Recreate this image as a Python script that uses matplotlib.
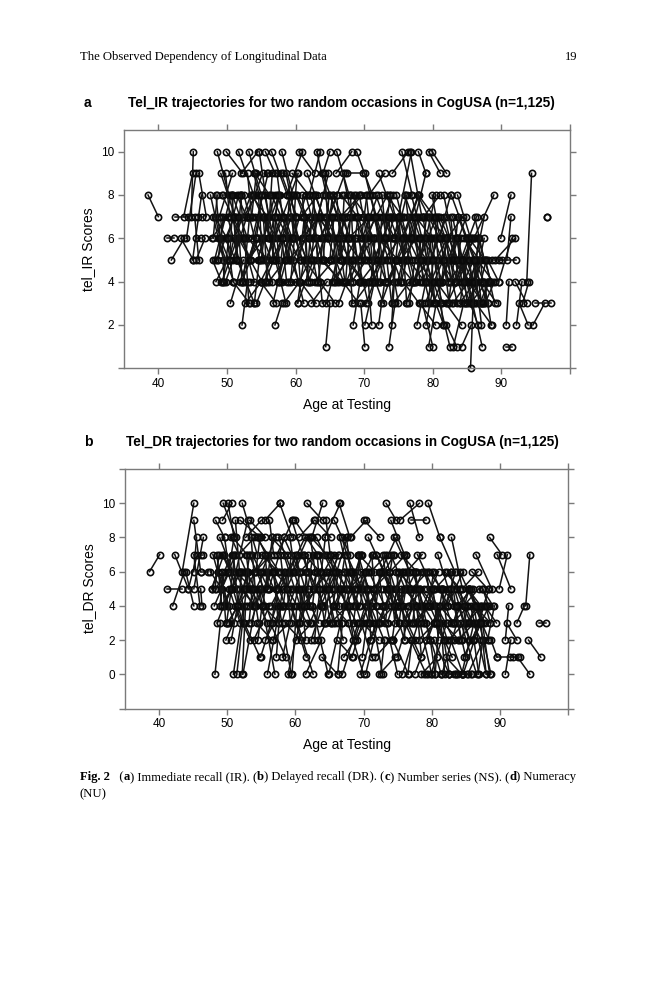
"""
Spaghetti plots of two-occasion trajectories (CogUSA tel_IR / tel_DR), page-style layout.
"""

import numpy as np
import matplotlib
matplotlib.use("Agg")
import matplotlib.pyplot as plt

# ---- panel a: tel_IR, (age, score) at occasion 1 and occasion 2 ----
IR_AGE1 = [
    # left fringe
    38.5, 41.9, 41.2, 42.4, 43.3, 43.7, 44.8, 44.1, 45.0, 45.3, 45.5, 45.8, 45.9, 45.5,
    # core
    47.6, 47.8, 48.0, 48.2, 48.4, 48.6, 48.7, 48.9, 47.9,
    49.1, 49.3, 49.5, 49.7, 49.9, 50.1, 50.3, 50.5, 50.8, 50.9,
    51.1, 51.3, 51.5, 51.7, 51.9, 52.1, 52.3, 52.5, 52.7, 52.9,
    53.1, 53.3, 53.5, 53.7, 53.9, 54.1, 54.3, 54.5, 54.7, 54.9,
    55.1, 55.3, 55.5, 55.7, 55.9, 56.1, 56.3, 56.5, 56.7, 56.9,
    57.1, 57.3, 57.5, 57.7, 57.9, 58.1, 58.3, 58.5, 58.7, 58.9,
    59.1, 59.3, 59.5, 59.7, 59.9, 60.1, 60.3, 60.5, 60.7, 60.9,
    61.1, 61.3, 61.5, 61.7, 61.9, 62.1, 62.3, 62.5, 62.7, 62.9,
    63.1, 63.3, 63.5, 63.7, 63.9, 64.1, 64.3, 64.5, 64.7, 64.9,
    65.1, 65.3, 65.5, 65.7, 65.9, 66.1, 66.3, 66.5, 66.7, 66.9,
    67.1, 67.3, 67.5, 67.7, 67.9, 68.1, 68.3, 68.5, 68.7, 68.9,
    69.1, 69.3, 69.5, 69.7, 69.9, 70.1, 70.3, 70.5, 70.7, 70.9,
    71.1, 71.3, 71.5, 71.7, 71.9, 72.1, 72.3, 72.5, 72.7, 72.9,
    73.1, 73.3, 73.5, 73.7, 73.9, 74.1, 74.3, 74.5, 74.7, 74.9,
    75.1, 75.3, 75.5, 75.7, 75.9, 76.1, 76.3, 76.5, 76.7, 76.9,
    77.1, 77.3, 77.5, 77.7, 77.9, 78.1, 78.3, 78.5, 78.7, 78.9,
    79.1, 79.3, 79.5, 79.7, 79.9, 80.1, 80.3, 80.5, 80.7, 80.9,
    81.1, 81.3, 81.5, 81.7, 81.9, 82.1, 82.3, 82.5, 82.7, 82.9,
    83.1, 83.3, 83.5, 83.7, 83.9, 84.1, 84.3, 84.5, 84.7, 84.9,
    85.1, 85.3, 85.5, 85.7, 85.9, 86.1, 86.3, 86.5,
    87.2, 87.6, 88.0, 88.3,
    # second pass through the dense middle
    48.2, 48.5, 49.0, 49.3, 49.8, 50.1, 50.6, 50.9, 51.4, 51.7,
    52.2, 52.5, 53.0, 53.3, 53.8, 54.1, 54.6, 54.9, 55.4, 55.7,
    56.2, 56.5, 57.0, 57.3, 57.8, 58.1, 58.6, 58.9, 59.4, 59.7,
    60.2, 60.5, 61.0, 61.3, 61.8, 62.1, 62.6, 62.9, 63.4, 63.7,
    64.2, 64.5, 65.0, 65.3, 65.8, 66.1, 66.6, 66.9, 67.4, 67.7,
    68.2, 68.5, 69.0, 69.3, 69.8, 70.1, 70.6, 70.9, 71.4, 71.7,
    72.2, 72.5, 73.0, 73.3, 73.8, 74.1, 74.6, 74.9, 75.4, 75.7,
    76.2, 76.5, 77.0, 77.3, 77.8, 78.1, 78.6, 78.9, 79.4, 79.7,
    80.2, 80.5, 81.0, 81.3, 81.8, 82.1, 82.6, 82.9, 83.4, 83.7,
    84.2, 84.5, 85.0, 85.3, 85.8, 86.1, 86.6, 84.4, 85.1, 86.9,
    # third pass, short retest intervals
    48.0, 48.4, 48.7, 49.1, 49.4, 49.8, 50.0, 50.4, 50.7, 51.0,
    51.3, 51.6, 52.0, 52.4, 52.6, 53.0, 53.4, 53.6, 54.0, 54.3,
    54.6, 55.0, 55.3, 55.6, 56.0, 56.3, 56.6, 57.0, 57.3, 57.6,
    58.0, 58.3, 58.6, 59.0, 59.3, 59.6, 60.0, 60.3, 60.6, 61.0,
    61.3, 61.6, 62.0, 62.3, 62.6, 63.0, 63.3, 63.6, 64.0, 64.3,
    64.6, 65.0, 65.3, 65.6, 66.0, 66.3, 66.6, 67.0, 67.3, 67.6,
    68.0, 68.3, 68.6, 69.0, 69.3, 69.6, 70.0, 70.3, 70.6, 71.0,
    71.3, 71.6, 72.0, 72.3, 72.6, 73.0, 73.3, 73.6, 74.0, 74.3,
    74.6, 75.0, 75.3, 75.6, 76.0, 76.3, 76.6, 77.0, 77.3, 77.6,
    78.0, 78.3, 78.6, 79.0, 79.3, 79.6, 80.0, 80.3, 80.6, 81.0,
    81.3, 81.6, 82.0, 82.3, 82.6, 83.0, 83.3, 83.6, 84.0, 84.3,
    84.6, 85.0, 85.3, 85.6, 86.0, 86.3, 86.6, 87.0, 87.3, 87.7,
    # right / low / high fringe
    86.0, 89.9, 90.8, 85.6, 96.6, 93.7, 90.7, 92.0, 92.2, 92.6,
    88.6, 89.1, 89.6, 89.6, 90.7, 85.8, 85.5, 86.0, 87.5, 94.6,
    94.9, 93.1, 81.0, 83.0, 82.0, 84.2, 79.4, 78.5, 64.4, 69.5,
    70.1, 73.6, 52.2, 57.0, 68.4, 70.6, 72.1, 74.0, 77.7, 79.0,
    80.9, 75.5, 76.7, 77.9, 79.4, 79.9, 75.0, 79.0, 81.6, 80.9,
    83.6, 53.2, 55.6, 58.0, 62.0, 66.0, 64.0,
]
IR_SCORE1 = [
    8, 5, 6, 7, 6, 7, 7, 6, 5, 7, 6, 7, 9, 5,
    8, 6, 7, 5, 4, 10, 6, 7, 5,
    9, 4, 8, 6, 10, 7, 5, 3, 8, 4,
    6, 7, 5, 10, 4, 9, 6, 8, 3, 7,
    5, 4, 8, 6, 9, 7, 3, 5, 10, 4,
    7, 6, 8, 5, 9, 4, 6, 10, 3, 7,
    5, 8, 4, 6, 9, 7, 3, 5, 8, 6,
    4, 7, 9, 5, 6, 8, 3, 10, 4, 7,
    6, 5, 8, 9, 4, 7, 3, 6, 5, 8,
    10, 7, 4, 6, 9, 5, 8, 3, 6, 7,
    5, 4, 8, 6, 9, 7, 3, 5, 8, 4,
    6, 7, 9, 5, 4, 8, 6, 3, 7, 10,
    5, 8, 4, 6, 7, 9, 3, 5, 8, 6,
    4, 7, 5, 8, 6, 9, 4, 3, 7, 5,
    6, 8, 4, 7, 5, 9, 3, 6, 8, 4,
    7, 5, 6, 4, 8, 3, 7, 5, 6, 8,
    4, 6, 7, 5, 8, 3, 6, 4, 7, 5,
    6, 4, 7, 5, 8, 3, 6, 4, 7, 5,
    4, 6, 5, 7, 3, 6, 4, 5, 8, 3,
    5, 4, 6, 7, 3, 5, 4, 6, 3, 5,
    4, 6, 3, 5, 4, 7, 3, 5,
    4, 3, 5, 4,
    7, 5, 6, 8, 4, 6, 7, 5, 8, 6,
    4, 7, 6, 5, 8, 9, 6, 4, 7, 5,
    6, 8, 5, 7, 4, 6, 9, 5, 7, 6,
    8, 4, 6, 7, 5, 8, 6, 4, 7, 5,
    6, 7, 8, 5, 4, 6, 7, 9, 5, 6,
    4, 8, 6, 5, 7, 6, 4, 8, 5, 7,
    6, 5, 7, 4, 8, 6, 5, 7, 4, 6,
    5, 7, 6, 4, 8, 5, 6, 3, 7, 4,
    6, 5, 7, 4, 6, 3, 5, 7, 4, 6,
    5, 4, 6, 3, 5, 4, 6, 5, 4, 3,
    6, 8, 5, 7, 4, 9, 6, 5, 8, 7,
    5, 7, 8, 4, 6, 9, 5, 7, 3, 6,
    8, 5, 7, 4, 6, 8, 5, 7, 9, 4,
    6, 7, 5, 8, 4, 6, 7, 3, 5, 8,
    7, 4, 6, 5, 8, 6, 4, 7, 5, 9,
    6, 5, 7, 4, 8, 6, 5, 7, 4, 6,
    8, 5, 6, 7, 4, 6, 5, 8, 7, 4,
    6, 7, 5, 4, 8, 6, 5, 7, 3, 6,
    5, 7, 4, 6, 8, 5, 3, 6, 7, 4,
    6, 5, 7, 4, 3, 6, 5, 7, 4, 6,
    4, 5, 6, 3, 7, 5, 4, 6, 3, 5,
    4, 6, 5, 3, 4, 5, 6, 4, 3, 5,
    6, 6, 5, 4, 7, 4, 2, 4, 2, 3,
    5, 5, 5, 4, 1, 3, 0, 5, 4, 2,
    3, 3, 3, 1, 2, 1, 1, 3, 1, 3,
    2, 1, 2, 2, 2, 4, 2, 2, 2, 2,
    4, 10, 10, 10, 10, 10, 7, 6, 8, 6,
    8, 10, 10, 10, 8, 10, 9,
]
IR_AGE2 = [
    40.0, 43.8, 42.3, 44.3, 45.1, 45.0, 45.1, 45.5, 46.3, 45.9, 46.2, 46.3, 47.0, 46.8,
    49.0, 50.1, 49.5, 50.6, 50.0, 50.3, 51.0, 50.8, 49.2,
    51.2, 51.5, 52.0, 51.3, 52.3, 52.6, 51.8, 52.4, 53.0, 53.3,
    53.5, 53.1, 54.0, 53.9, 54.2, 54.5, 54.0, 54.8, 55.0, 55.2,
    55.4, 55.6, 55.9, 56.0, 56.3, 56.5, 56.8, 57.0, 56.1, 57.2,
    57.4, 57.6, 58.0, 57.9, 58.2, 58.5, 58.6, 58.8, 59.0, 59.2,
    59.4, 59.5, 60.0, 59.8, 60.2, 60.4, 60.6, 60.8, 61.0, 61.2,
    61.4, 61.6, 61.9, 62.0, 62.2, 62.4, 62.6, 62.8, 63.0, 63.2,
    63.4, 63.6, 63.9, 64.0, 64.2, 64.4, 64.6, 64.8, 65.0, 65.2,
    64.5, 65.5, 65.8, 66.0, 66.2, 66.4, 66.6, 66.8, 67.0, 67.2,
    67.4, 67.6, 67.9, 68.0, 68.2, 68.4, 68.6, 68.8, 69.0, 69.2,
    69.4, 69.6, 69.9, 70.0, 70.2, 70.4, 70.6, 70.8, 71.0, 71.2,
    71.4, 71.6, 71.9, 72.0, 72.2, 72.4, 72.6, 72.8, 73.0, 73.2,
    73.4, 73.6, 73.9, 74.0, 74.2, 74.4, 74.6, 74.8, 75.0, 75.2,
    75.4, 75.6, 75.9, 76.0, 76.2, 76.4, 76.6, 76.8, 77.0, 77.2,
    77.4, 77.6, 77.9, 78.0, 78.2, 78.4, 78.6, 78.8, 79.0, 79.2,
    79.4, 79.6, 79.9, 80.0, 80.2, 80.4, 80.6, 80.8, 81.0, 81.2,
    81.4, 81.6, 81.9, 82.0, 82.2, 82.4, 82.6, 82.8, 83.0, 83.2,
    83.4, 83.6, 83.9, 84.0, 84.2, 84.4, 84.6, 84.8, 85.0, 85.2,
    85.4, 85.6, 85.9, 86.0, 86.2, 86.4, 86.6, 86.8, 87.0, 87.2,
    87.4, 87.6, 87.9, 88.0, 88.2, 87.5, 88.6, 88.8,
    89.3, 89.0, 89.6, 89.0,
    50.0, 51.1, 50.3, 52.4, 52.0, 51.7, 53.5, 52.9, 52.9, 55.1,
    54.6, 54.2, 56.0, 54.7, 56.5, 56.2, 56.5, 58.1, 57.0, 58.2,
    57.7, 59.3, 59.0, 60.6, 59.5, 60.5, 59.9, 61.8, 61.6, 61.5,
    63.2, 62.1, 63.5, 63.2, 65.2, 64.2, 64.0, 65.6, 65.4, 66.8,
    65.9, 67.1, 67.2, 66.8, 68.8, 68.0, 69.4, 68.2, 69.8, 70.9,
    70.3, 69.9, 71.9, 71.6, 71.4, 73.4, 72.6, 72.7, 74.0, 73.2,
    74.9, 74.4, 74.4, 76.4, 76.0, 75.8, 77.1, 77.9, 77.0, 78.0,
    78.0, 79.4, 79.1, 78.8, 81.0, 80.5, 80.3, 81.5, 80.7, 82.5,
    82.4, 82.1, 83.7, 83.3, 83.2, 85.1, 84.9, 84.7, 85.9, 85.6,
    86.2, 86.0, 87.4, 87.1, 88.0, 87.5, 88.5, 87.2, 86.7, 88.1,
    48.6, 49.0, 49.5, 49.6, 50.3, 50.4, 50.9, 50.9, 51.5, 51.6,
    52.1, 52.2, 52.5, 53.3, 53.2, 53.6, 54.2, 54.3, 54.7, 55.1,
    55.2, 55.8, 55.9, 56.5, 56.6, 57.0, 57.4, 57.6, 58.1, 58.2,
    58.7, 59.2, 59.1, 59.8, 60.1, 60.2, 60.7, 61.2, 61.3, 61.6,
    61.9, 62.4, 62.8, 63.0, 63.2, 63.9, 64.0, 64.2, 64.9, 64.8,
    65.4, 65.6, 66.1, 66.2, 66.7, 67.2, 67.1, 67.8, 68.0, 68.3,
    68.5, 69.1, 69.4, 69.6, 70.1, 70.4, 70.6, 71.0, 71.5, 71.6,
    72.0, 72.4, 72.6, 73.1, 73.2, 73.8, 74.0, 74.3, 74.6, 75.1,
    75.3, 75.7, 76.1, 76.2, 76.8, 77.0, 77.4, 77.7, 78.1, 78.3,
    78.6, 79.1, 79.4, 79.7, 80.1, 80.3, 80.8, 81.0, 81.4, 81.7,
    82.0, 82.4, 82.6, 83.1, 83.3, 83.7, 84.1, 84.2, 84.8, 85.0,
    85.3, 85.7, 86.1, 86.4, 86.7, 87.1, 87.3, 87.8, 88.1, 88.4,
    88.9, 91.4, 91.4, 87.5, 96.6, 94.4, 91.1, 93.7, 93.0, 93.9,
    90.1, 92.0, 92.2, 91.5, 91.6, 87.2, 86.0, 87.1, 88.5, 96.3,
    97.3, 94.0, 82.5, 84.5, 83.5, 85.6, 80.5, 80.0, 65.0, 70.1,
    71.5, 74.5, 53.0, 58.0, 69.4, 71.1, 73.0, 74.6, 79.0, 80.2,
    81.5, 77.0, 78.4, 79.0, 81.1, 82.0, 76.9, 80.4, 83.5, 82.6,
    85.5, 55.0, 57.0, 59.6, 63.6, 67.8, 65.0,
]
IR_SCORE2 = [
    7, 6, 6, 7, 5, 9, 10, 9, 8, 5, 6, 7, 7, 6,
    6, 7, 5, 8, 5, 8, 4, 9, 4,
    7, 6, 8, 5, 9, 4, 7, 5, 6, 3,
    8, 7, 3, 8, 6, 10, 4, 5, 4, 9,
    6, 4, 7, 9, 6, 5, 5, 8, 7, 3,
    6, 8, 4, 7, 9, 5, 3, 8, 6, 5,
    7, 6, 4, 8, 7, 9, 4, 5, 10, 3,
    6, 5, 8, 7, 4, 6, 5, 9, 3, 8,
    7, 4, 5, 7, 6, 7, 4, 9, 5, 6,
    8, 6, 3, 8, 7, 4, 5, 6, 4, 9,
    7, 5, 6, 6, 10, 4, 5, 8, 7, 3,
    5, 8, 9, 4, 6, 7, 3, 4, 5, 8,
    6, 4, 5, 8, 7, 6, 5, 3, 9, 4,
    6, 5, 7, 6, 8, 7, 4, 5, 3, 6,
    4, 7, 6, 5, 8, 10, 4, 6, 5, 7,
    4, 6, 8, 3, 6, 5, 7, 4, 9, 5,
    5, 3, 6, 4, 7, 2, 5, 6, 8, 3,
    4, 2, 6, 7, 4, 5, 6, 3, 5, 4,
    6, 3, 5, 4, 2, 7, 5, 3, 6, 4,
    4, 6, 3, 5, 4, 7, 2, 5, 4, 3,
    3, 5, 4, 3, 4, 5, 2, 4,
    3, 4, 4, 3,
    6, 7, 5, 6, 6, 8, 5, 7, 7, 4,
    6, 8, 5, 7, 6, 8, 4, 6, 5, 7,
    8, 6, 7, 5, 6, 4, 7, 6, 5, 8,
    6, 5, 7, 4, 7, 6, 8, 5, 6, 4,
    7, 5, 6, 7, 6, 5, 8, 7, 4, 7,
    5, 6, 4, 7, 6, 8, 5, 6, 7, 4,
    5, 7, 6, 6, 5, 7, 4, 5, 6, 8,
    7, 4, 5, 6, 6, 7, 3, 5, 4, 6,
    4, 6, 5, 6, 4, 5, 7, 4, 6, 3,
    6, 5, 4, 5, 3, 6, 4, 3, 5, 4,
    8, 6, 7, 4, 6, 7, 4, 8, 5, 5,
    8, 4, 6, 7, 3, 7, 6, 9, 5, 8,
    5, 7, 4, 6, 9, 6, 8, 5, 7, 6,
    4, 5, 8, 6, 7, 9, 4, 5, 7, 5,
    4, 7, 8, 7, 5, 3, 6, 5, 8, 6,
    8, 7, 4, 6, 5, 4, 8, 6, 7, 3,
    5, 7, 4, 5, 6, 8, 7, 6, 4, 6,
    4, 5, 7, 6, 6, 8, 3, 4, 5, 7,
    7, 5, 6, 3, 6, 4, 5, 7, 4, 6,
    4, 7, 5, 6, 5, 3, 7, 4, 3, 5,
    6, 3, 4, 5, 5, 7, 6, 4, 5, 3,
    6, 4, 3, 5, 6, 3, 4, 5, 4, 4,
    8, 8, 7, 7, 7, 9, 4, 3, 4, 2,
    5, 6, 5, 6, 1, 1, 4, 2, 2, 3,
    3, 4, 1, 3, 1, 2, 3, 1, 3, 1,
    4, 3, 4, 3, 4, 2, 4, 5, 4, 4,
    2, 8, 7, 9, 9, 9, 10, 8, 5, 8,
    6, 8, 9, 8, 10, 8, 10,
]

# ---- panel b: tel_DR ----
DR_AGE1 = [
    # left fringe
    38.6, 41.2, 42.0, 42.3, 43.4, 43.9, 44.3, 45.1, 45.1, 45.1,
    45.1, 46.1, 46.2, 46.1, 49.3, 50.1, 50.6,
    # core
    47.5, 47.7, 47.9, 48.1, 48.3, 48.5, 48.7, 48.9, 48.2, 47.8,
    49.1, 49.3, 49.5, 49.4, 49.8, 50.1, 50.3, 50.6, 50.9, 50.7,
    51.1, 51.3, 51.4, 51.7, 51.9, 52.2, 52.3, 52.5, 52.7, 52.9,
    53.1, 53.3, 53.5, 53.7, 53.9, 54.1, 54.3, 54.5, 54.7, 54.9,
    55.1, 55.3, 55.5, 55.7, 55.9, 56.1, 56.3, 56.5, 56.7, 56.9,
    57.1, 57.3, 57.5, 57.7, 57.9, 58.1, 58.3, 58.5, 58.7, 58.9,
    59.1, 59.3, 59.5, 59.7, 59.9, 60.1, 60.3, 60.5, 60.7, 60.9,
    61.1, 61.3, 61.5, 61.7, 61.9, 62.1, 62.3, 62.5, 62.7, 62.9,
    63.1, 63.3, 63.5, 63.7, 63.9, 64.1, 64.3, 64.5, 64.7, 64.9,
    65.1, 65.3, 65.5, 65.7, 65.9, 66.1, 66.3, 66.5, 66.7, 66.9,
    67.1, 67.3, 67.5, 67.7, 67.9, 68.1, 68.3, 68.5, 68.7, 68.9,
    69.1, 69.3, 69.5, 69.7, 69.9, 70.1, 70.3, 70.5, 70.7, 70.9,
    71.1, 71.3, 71.5, 71.7, 71.9, 72.1, 72.3, 72.5, 72.7, 72.9,
    73.1, 73.3, 73.5, 73.7, 73.9, 74.1, 74.3, 74.5, 74.7, 74.9,
    75.1, 75.3, 75.5, 75.7, 75.9, 76.1, 76.3, 76.5, 76.8, 76.9,
    77.1, 77.3, 77.5, 77.7, 77.9, 78.1, 78.3, 78.5, 78.7, 78.9,
    79.1, 79.3, 79.5, 79.7, 79.9, 80.1, 80.3, 80.5, 80.7, 80.9,
    81.1, 81.3, 81.5, 81.7, 81.9, 82.1, 82.3, 82.5, 82.9, 82.7,
    83.1, 83.3, 83.5, 83.7, 83.9, 84.1, 84.3, 84.5, 84.7, 84.9,
    85.1, 85.3, 85.5, 85.7, 85.9, 86.1, 86.3, 86.5,
    87.0, 87.4, 87.8, 88.2,
    # second pass through the dense middle
    48.4, 48.7, 49.2, 49.5, 50.0, 50.3, 50.8, 51.1, 51.6, 51.9,
    52.4, 52.7, 53.2, 53.5, 54.0, 54.3, 54.8, 55.1, 55.6, 55.9,
    56.4, 56.7, 57.2, 57.5, 58.0, 58.3, 58.8, 59.1, 59.6, 59.9,
    60.4, 60.7, 61.2, 61.5, 62.0, 62.3, 62.8, 63.1, 63.6, 63.9,
    64.4, 64.7, 65.2, 65.5, 66.0, 66.3, 66.8, 67.1, 67.6, 67.9,
    68.4, 68.7, 69.2, 69.5, 70.0, 70.3, 70.8, 71.1, 71.6, 71.9,
    72.4, 72.7, 73.2, 73.5, 74.0, 74.3, 74.8, 75.1, 75.6, 75.9,
    76.4, 76.7, 77.2, 77.5, 78.0, 78.3, 78.8, 79.1, 79.6, 79.9,
    80.4, 80.7, 81.2, 81.5, 82.0, 82.3, 82.8, 83.1, 83.6, 83.9,
    84.4, 84.7, 85.2, 85.5, 86.0, 86.3, 86.8, 84.6, 85.3, 87.1,
    # third pass, short retest intervals
    48.2, 48.5, 48.9, 49.2, 49.6, 49.9, 50.2, 50.5, 50.9, 51.2,
    51.5, 51.8, 52.2, 52.5, 52.8, 53.2, 53.5, 53.8, 54.2, 54.5,
    54.8, 55.2, 55.5, 55.8, 56.2, 56.5, 56.8, 57.2, 57.5, 57.8,
    58.2, 58.5, 58.8, 59.2, 59.5, 59.8, 60.2, 60.5, 60.8, 61.2,
    61.5, 61.8, 62.2, 62.5, 62.8, 63.2, 63.5, 63.8, 64.2, 64.5,
    64.8, 65.2, 65.5, 65.8, 66.2, 66.5, 66.8, 67.2, 67.5, 67.8,
    68.2, 68.5, 68.8, 69.2, 69.5, 69.8, 70.2, 70.5, 70.8, 71.2,
    71.5, 71.8, 72.2, 72.5, 72.8, 73.2, 73.5, 73.8, 74.2, 74.5,
    74.8, 75.2, 75.5, 75.8, 76.2, 76.5, 76.8, 77.2, 77.5, 77.8,
    78.2, 78.5, 78.8, 79.2, 79.5, 79.8, 80.2, 80.5, 80.8, 81.2,
    81.5, 81.8, 82.2, 82.5, 82.8, 83.2, 83.5, 83.8, 84.2, 84.5,
    84.8, 85.2, 85.5, 85.8, 86.2, 86.5, 86.8, 87.2, 87.5, 87.9,
    # right / high fringe
    88.5, 89.6, 89.9, 90.8, 93.8, 91.0, 94.2, 92.5, 95.8, 89.6,
    91.5, 90.8, 92.6, 88.7, 66.4, 75.3, 77.0, 74.0, 62.4, 81.2,
]
DR_SCORE1 = [
    6, 5, 4, 7, 6, 6, 5, 6, 5, 7,
    9, 5, 7, 6, 9, 10, 2,
    6, 5, 7, 4, 9, 3, 6, 8, 0, 5,
    5, 7, 4, 10, 2, 6, 3, 8, 0, 5,
    4, 6, 0, 7, 5, 10, 0, 3, 8, 6,
    4, 9, 5, 7, 2, 6, 3, 8, 5, 1,
    7, 4, 9, 6, 0, 5, 3, 8, 2, 6,
    5, 7, 4, 10, 6, 1, 8, 3, 5, 0,
    6, 4, 9, 5, 7, 2, 3, 8, 6, 4,
    5, 7, 0, 10, 6, 3, 8, 4, 5, 9,
    6, 2, 7, 4, 1, 5, 8, 3, 6, 0,
    7, 5, 4, 9, 6, 2, 3, 8, 5, 0,
    6, 4, 7, 3, 5, 8, 1, 6, 2, 4,
    5, 7, 0, 6, 3, 9, 4, 5, 8, 2,
    6, 4, 5, 1, 7, 3, 0, 6, 4, 5,
    7, 10, 3, 5, 6, 4, 2, 8, 5, 1,
    6, 4, 7, 0, 5, 3, 6, 4, 10, 2,
    5, 3, 6, 4, 7, 2, 5, 0, 4, 6,
    3, 5, 10, 4, 0, 6, 2, 5, 3, 7,
    4, 0, 5, 3, 6, 1, 4, 2, 8, 5,
    3, 5, 0, 4, 2, 6, 3, 5, 1, 4,
    3, 0, 5, 4, 6, 2, 4, 7,
    3, 5, 4, 2,
    5, 6, 4, 7, 3, 5, 8, 6, 4, 9,
    6, 5, 7, 3, 4, 8, 5, 6, 2, 7,
    4, 6, 5, 8, 3, 7, 5, 4, 6, 9,
    5, 3, 7, 4, 6, 2, 5, 8, 6, 4,
    7, 5, 3, 6, 4, 5, 8, 1, 6, 5,
    4, 6, 7, 3, 5, 0, 6, 4, 5, 7,
    3, 6, 4, 5, 7, 2, 5, 4, 6, 3,
    5, 4, 6, 0, 3, 5, 4, 2, 6, 5,
    3, 4, 5, 0, 4, 6, 2, 3, 5, 4,
    0, 4, 3, 5, 2, 4, 3, 0, 5, 4,
    5, 7, 4, 6, 8, 3, 6, 5, 7, 9,
    4, 6, 0, 5, 7, 3, 8, 5, 6, 2,
    6, 4, 7, 5, 9, 3, 6, 1, 5, 7,
    4, 6, 5, 8, 0, 6, 7, 3, 5, 4,
    6, 5, 8, 4, 2, 7, 5, 6, 3, 9,
    5, 7, 4, 6, 0, 5, 3, 6, 8, 4,
    6, 3, 5, 7, 4, 1, 6, 5, 3, 7,
    5, 4, 6, 0, 7, 3, 5, 6, 2, 4,
    6, 3, 5, 4, 7, 0, 5, 3, 6, 4,
    5, 3, 0, 6, 4, 2, 5, 0, 3, 4,
    5, 2, 4, 0, 6, 3, 4, 0, 5, 2,
    4, 0, 3, 5, 2, 4, 0, 3, 5, 4,
    8, 7, 5, 2, 4, 3, 2, 3, 3, 1,
    1, 0, 1, 2, 10, 9, 9, 9, 8, 8,
]
DR_AGE2 = [
    40.1, 43.4, 43.7, 44.3, 45.1, 45.1, 45.6, 45.5, 46.5, 46.0,
    46.1, 46.3, 46.5, 47.2, 50.7, 51.0, 51.5,
    49.2, 49.5, 50.0, 50.3, 49.6, 50.5, 51.0, 50.8, 49.0, 48.6,
    51.2, 51.5, 51.9, 51.3, 52.0, 52.3, 52.6, 52.8, 52.4, 53.0,
    53.4, 53.6, 53.1, 54.0, 54.2, 54.4, 54.6, 54.8, 55.0, 55.2,
    55.4, 55.6, 55.9, 56.0, 56.2, 56.4, 56.6, 56.8, 57.0, 57.2,
    57.4, 57.6, 57.8, 58.0, 58.2, 58.4, 58.6, 58.8, 59.0, 59.2,
    59.4, 59.6, 59.8, 59.5, 60.2, 60.4, 60.6, 60.8, 61.0, 61.2,
    61.4, 61.6, 61.8, 62.0, 62.2, 62.4, 62.6, 62.8, 63.0, 63.2,
    63.4, 63.6, 63.8, 64.0, 64.2, 64.4, 64.6, 64.8, 65.0, 65.2,
    65.4, 65.6, 65.8, 66.0, 66.2, 66.4, 66.6, 66.8, 67.0, 67.2,
    67.4, 67.6, 67.8, 68.0, 68.2, 68.4, 68.6, 68.8, 69.0, 69.2,
    69.4, 69.6, 69.8, 70.0, 70.2, 70.4, 70.6, 70.8, 71.0, 71.2,
    71.4, 71.6, 71.8, 72.0, 72.2, 72.4, 72.6, 72.8, 73.0, 73.2,
    73.4, 73.6, 73.8, 74.0, 74.2, 74.4, 74.6, 74.8, 75.0, 75.2,
    75.4, 74.8, 75.8, 76.0, 76.2, 76.4, 76.6, 76.8, 77.0, 77.2,
    77.4, 77.6, 77.8, 78.0, 78.2, 78.4, 78.6, 78.8, 78.2, 79.2,
    79.4, 79.6, 79.8, 80.0, 80.2, 80.4, 80.6, 80.8, 81.0, 81.2,
    81.4, 81.6, 81.2, 82.0, 82.2, 82.4, 82.6, 82.8, 83.0, 83.2,
    83.4, 83.6, 83.8, 84.0, 84.2, 84.4, 84.6, 84.8, 84.5, 85.0,
    85.4, 85.6, 85.8, 86.0, 86.2, 86.4, 86.6, 86.8, 87.0, 87.2,
    87.4, 87.6, 87.8, 88.0, 88.2, 88.4, 88.6, 88.8,
    88.7, 89.0, 89.5, 89.2,
    50.7, 50.2, 52.0, 51.4, 53.2, 51.9, 52.9, 53.8, 53.0, 54.9,
    54.1, 55.6, 55.4, 55.0, 56.6, 57.6, 56.6, 57.1, 58.1, 57.3,
    59.0, 58.5, 60.3, 59.5, 59.5, 60.7, 61.7, 60.8, 61.8, 63.3,
    62.3, 63.2, 62.6, 64.5, 64.2, 64.0, 65.6, 65.4, 65.2, 66.5,
    67.5, 66.3, 67.6, 67.5, 67.8, 69.0, 68.3, 70.3, 69.7, 69.8,
    70.6, 71.5, 70.7, 72.0, 73.0, 72.1, 73.1, 72.7, 74.5, 73.9,
    74.0, 75.1, 76.1, 75.3, 76.1, 77.4, 76.3, 77.7, 77.6, 77.6,
    78.9, 78.6, 78.8, 80.3, 80.3, 79.7, 81.8, 81.2, 81.4, 82.3,
    82.4, 83.3, 82.9, 83.7, 83.5, 85.2, 84.6, 85.5, 85.7, 85.5,
    86.2, 86.9, 86.7, 87.5, 87.7, 88.4, 88.4, 87.1, 87.2, 88.5,
    48.8, 49.2, 49.6, 49.8, 50.3, 50.6, 51.0, 51.1, 51.6, 51.8,
    52.2, 52.5, 52.7, 53.3, 53.4, 53.9, 54.1, 54.6, 54.8, 55.1,
    55.5, 55.9, 56.1, 56.6, 56.8, 57.3, 57.5, 57.8, 58.3, 58.4,
    58.9, 59.3, 59.4, 59.9, 60.2, 60.6, 60.8, 61.3, 61.5, 61.9,
    62.1, 62.6, 62.9, 63.1, 63.6, 63.8, 64.3, 64.4, 65.0, 65.1,
    65.5, 65.8, 66.3, 66.4, 66.9, 67.3, 67.4, 68.0, 68.1, 68.5,
    68.8, 69.2, 69.6, 69.9, 70.3, 70.5, 70.9, 71.1, 71.6, 71.8,
    72.2, 72.5, 72.9, 73.1, 73.6, 73.8, 74.3, 74.6, 74.9, 75.2,
    75.5, 75.9, 76.1, 76.6, 76.9, 77.1, 77.6, 77.8, 78.3, 78.5,
    78.8, 79.3, 79.5, 79.9, 80.3, 80.5, 81.0, 81.1, 81.6, 81.9,
    82.2, 82.6, 82.8, 83.3, 83.5, 83.9, 84.3, 84.4, 85.0, 85.2,
    85.5, 85.9, 86.3, 86.6, 86.9, 87.3, 87.5, 88.0, 88.3, 88.6,
    90.3, 91.6, 91.1, 91.3, 94.4, 92.5, 96.0, 93.6, 96.7, 92.0,
    93.0, 91.6, 94.4, 89.6, 68.0, 78.2, 79.2, 76.0, 64.0, 83.4,
]
DR_SCORE2 = [
    7, 5, 6, 5, 10, 4, 7, 8, 8, 4,
    6, 4, 7, 6, 10, 8, 4,
    5, 7, 4, 6, 8, 5, 3, 6, 3, 6,
    7, 5, 6, 8, 4, 3, 5, 6, 4, 9,
    2, 5, 6, 8, 4, 7, 5, 1, 9, 4,
    6, 8, 3, 5, 4, 7, 2, 6, 0, 4,
    6, 3, 10, 4, 5, 8, 1, 7, 3, 5,
    0, 9, 4, 8, 3, 5, 6, 2, 7, 4,
    8, 1, 6, 5, 4, 3, 0, 9, 7, 5,
    3, 6, 2, 9, 4, 5, 7, 0, 6, 8,
    5, 4, 3, 6, 0, 7, 10, 5, 2, 4,
    5, 8, 3, 7, 6, 1, 5, 4, 2, 3,
    4, 7, 5, 0, 6, 9, 4, 3, 5, 1,
    7, 6, 3, 4, 2, 8, 5, 0, 6, 4,
    7, 3, 6, 2, 5, 4, 1, 8, 0, 3,
    4, 9, 6, 2, 7, 5, 0, 6, 3, 4,
    5, 2, 6, 3, 4, 1, 7, 5, 8, 0,
    6, 4, 2, 0, 5, 3, 4, 1, 6, 3,
    0, 5, 8, 2, 3, 4, 0, 6, 1, 4,
    3, 0, 4, 2, 5, 0, 6, 3, 5, 1,
    4, 2, 0, 5, 3, 4, 0, 6, 3, 2,
    4, 2, 3, 0, 5, 4, 3, 5,
    0, 4, 3, 4,
    7, 4, 6, 5, 5, 3, 7, 4, 6, 8,
    4, 7, 5, 5, 6, 6, 3, 8, 4, 5,
    6, 4, 7, 6, 5, 4, 3, 6, 8, 7,
    3, 6, 5, 6, 4, 4, 7, 6, 3, 5,
    5, 7, 4, 4, 6, 3, 6, 3, 5, 7,
    6, 3, 5, 5, 2, 3, 4, 6, 7, 5,
    5, 4, 6, 3, 5, 4, 3, 6, 4, 5,
    3, 6, 4, 3, 5, 4, 2, 4, 5, 2,
    5, 2, 3, 3, 6, 4, 0, 5, 3, 2,
    3, 5, 4, 3, 4, 2, 5, 3, 4, 0,
    7, 4, 6, 3, 6, 5, 8, 7, 4, 6,
    6, 3, 4, 7, 5, 6, 5, 3, 8, 4,
    4, 6, 5, 8, 7, 5, 3, 4, 6, 5,
    6, 3, 7, 6, 4, 5, 4, 5, 2, 7,
    4, 7, 6, 6, 5, 4, 3, 8, 5, 7,
    3, 5, 6, 4, 3, 7, 5, 4, 6, 2,
    4, 5, 7, 5, 6, 3, 3, 2, 5, 4,
    3, 6, 4, 2, 5, 5, 7, 3, 4, 6,
    4, 5, 2, 6, 5, 2, 3, 5, 4, 1,
    3, 4, 0, 4, 6, 0, 2, 3, 5, 0,
    3, 0, 5, 0, 4, 4, 2, 0, 3, 4,
    5, 0, 4, 3, 0, 3, 2, 0, 4, 3,
    7, 5, 7, 4, 7, 2, 1, 4, 3, 1,
    1, 2, 0, 1, 8, 10, 9, 7, 10, 6,
]

X_TICKS = [40, 50, 60, 70, 80, 90, 100]
X_LABELS = ["40", "50", "60", "70", "80", "90", ""]

W, H = 659, 1000
FRAME = "#7a7a7a"
SANS = ["Liberation Sans", "DejaVu Sans"]
SERIF = ["Liberation Serif", "DejaVu Serif"]


def fx(px):
    return px / W


def fy(py):
    return 1 - py / H


def draw_panel(ax, age1, s1, age2, s2, ylim, yticks, ylabels):
    xs = np.vstack([age1, age2])
    ys = np.vstack([s1, s2])
    ax.plot(xs, ys, color="#141414", lw=1.1, marker="o", ms=4.5,
            mfc="none", mec="#0a0a0a", mew=1.2, clip_on=False)
    ax.set_xlim(35, 100)
    ax.set_ylim(*ylim)
    ax.set_xticks(X_TICKS)
    ax.set_xticklabels(X_LABELS)
    ax.set_yticks(yticks)
    ax.set_yticklabels(ylabels)
    for sp in ax.spines.values():
        sp.set_color(FRAME)
        sp.set_linewidth(1.0)
    ax.tick_params(direction="out", length=4.5, width=1.0, color=FRAME,
                   top=True, right=True, labelsize=8.5, pad=2.5)
    for lab in ax.get_xticklabels() + ax.get_yticklabels():
        lab.set_family(SANS)


fig = plt.figure(figsize=(W / 100, H / 100), dpi=100)

ax_a = fig.add_axes([fx(124), fy(368.3), fx(570 - 124), (368.3 - 130) / H])
draw_panel(ax_a, IR_AGE1, IR_SCORE1, IR_AGE2, IR_SCORE2, (0, 11),
           [0, 2, 4, 6, 8, 10], ["", "2", "4", "6", "8", "10"])

ax_b = fig.add_axes([fx(125), fy(708.5), fx(568 - 125), (708.5 - 469) / H])
draw_panel(ax_b, DR_AGE1, DR_SCORE1, DR_AGE2, DR_SCORE2, (-2, 12),
           [-2, 0, 2, 4, 6, 8, 10, 12], ["", "0", "2", "4", "6", "8", "10", ""])

# page header
fig.text(fx(80), fy(57), "The Observed Dependency of Longitudinal Data",
         family=SERIF, fontsize=9.1, va="center", ha="left")
fig.text(fx(577), fy(57), "19", family=SERIF, fontsize=9.1, va="center", ha="right")

# panel titles
fig.text(fx(84), fy(103), "a", family=SANS, fontsize=10, weight="bold", va="center")
fig.text(fx(341.5), fy(103), "Tel_IR trajectories for two random occasions in CogUSA (n=1,125)",
         family=SANS, fontsize=9.8, weight="bold", va="center", ha="center")
fig.text(fx(84), fy(442), "b", family=SANS, fontsize=10, weight="bold", va="center")
fig.text(fx(342.5), fy(442), "Tel_DR trajectories for two random occasions in CogUSA (n=1,125)",
         family=SANS, fontsize=9.8, weight="bold", va="center", ha="center")

# axis labels
fig.text(fx(88.5), fy(249), "tel_IR Scores", family=SANS, fontsize=10,
         rotation=90, va="center", ha="center")
fig.text(fx(89), fy(588.5), "tel_DR Scores", family=SANS, fontsize=10,
         rotation=90, va="center", ha="center")
fig.text(fx(346.7), fy(405), "Age at Testing", family=SANS, fontsize=10,
         va="center", ha="center")
fig.text(fx(346.7), fy(745), "Age at Testing", family=SANS, fontsize=10,
         va="center", ha="center")

# caption with bold pieces, laid out left to right
caption = [("Fig. 2", "bold"), ("   (", "normal"), ("a", "bold"),
           (") Immediate recall (IR). (", "normal"), ("b", "bold"),
           (") Delayed recall (DR). (", "normal"), ("c", "bold"),
           (") Number series (NS). (", "normal"), ("d", "bold"),
           (") Numeracy", "normal")]
fig.canvas.draw()
renderer = fig.canvas.get_renderer()
x = fx(80)
for piece, weight in caption:
    t = fig.text(x, fy(777), piece, family=SERIF, fontsize=9.1, weight=weight,
                 va="center", ha="left")
    x += t.get_window_extent(renderer).width / W
fig.text(fx(80), fy(794), "(NU)", family=SERIF, fontsize=9.1, va="center", ha="left")

fig.savefig("out.png", dpi=100)
